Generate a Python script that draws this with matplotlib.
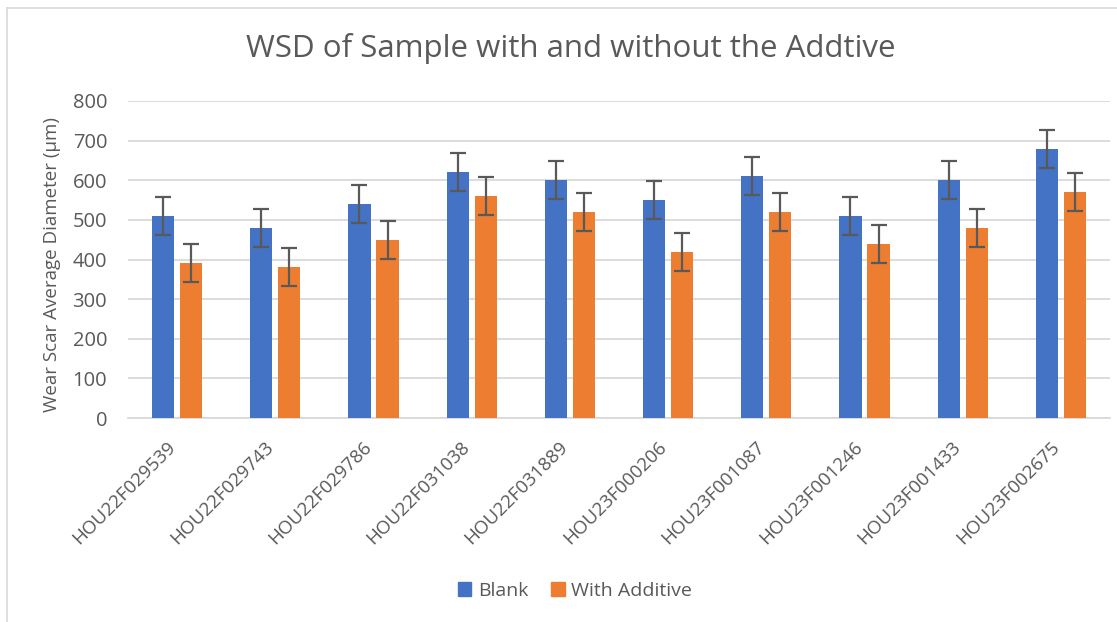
import matplotlib
matplotlib.use("Agg")
import matplotlib.pyplot as plt
from matplotlib.lines import Line2D
from matplotlib.patches import Patch
from matplotlib.transforms import ScaledTranslation
import numpy as np

categories = ["HOU22F029539", "HOU22F029743", "HOU22F029786", "HOU22F031038",
              "HOU22F031889", "HOU23F000206", "HOU23F001087", "HOU23F001246",
              "HOU23F001433", "HOU23F002675"]
blank = [510, 480, 540, 620, 600, 550, 610, 510, 600, 680]
additive = [390, 380, 450, 560, 520, 420, 520, 440, 480, 570]
blank_err = [48, 48, 48, 48, 48, 48, 48, 48, 48, 48]
additive_err = [48, 48, 48, 48, 48, 48, 48, 48, 48, 48]
yticks = [0, 100, 200, 300, 400, 500, 600, 700, 800]

plt.rcParams['font.family'] = ['Open Sans', 'DejaVu Sans']
txt = '#595959'

fig = plt.figure(figsize=(11.17, 6.22), dpi=100)
ax = fig.add_axes([128/1117, 1-418/622, (1110-128)/1117, (418-101)/622])

x = np.arange(len(categories))
w = 0.225
off = 0.143
ekw = dict(ecolor='#595959', elinewidth=1.6, capsize=5.5, capthick=1.6)
ax.bar(x - off, blank, w, color='#4472C4', yerr=blank_err, error_kw=ekw, zorder=3, label='Blank')
ax.bar(x + off, additive, w, color='#ED7D31', yerr=additive_err, error_kw=ekw, zorder=3, label='With Additive')

ax.set_xlim(-0.5, len(categories) - 0.5)
ax.set_ylim(0, 800)
ax.set_yticks(yticks)
ax.yaxis.grid(True, color='#d9d9d9', linewidth=1.3, zorder=0)
ax.set_axisbelow(True)
for s in ['top', 'right', 'left']:
    ax.spines[s].set_visible(False)
ax.spines['bottom'].set_color('#d9d9d9')
ax.spines['bottom'].set_linewidth(1.3)
ax.tick_params(axis='both', length=0, colors=txt)
ax.tick_params(axis='y', pad=15, labelsize=14.5)
ax.tick_params(axis='x', pad=9, labelsize=13.5)
ax.set_xticks(x)
ax.set_xticklabels(categories, rotation=45, ha='right', rotation_mode='anchor')
shift = ScaledTranslation(-11/100, -7/100, fig.dpi_scale_trans)
for lab in ax.get_xticklabels():
    lab.set_transform(lab.get_transform() + shift)
ax.set_ylabel('Wear Scar Average Diameter (µm)', fontsize=13.5, color=txt)
ax.yaxis.set_label_coords(61/1117, 1-264/622, transform=fig.transFigure)

fig.text(571/1117, 1-48/622, 'WSD of Sample with and without the Addtive', ha='center', va='center',
         fontsize=22.5, color=txt)

handles = [Patch(color='#4472C4'), Patch(color='#ED7D31')]
fig.legend(handles, ['Blank', 'With Additive'], loc='center', bbox_to_anchor=(575/1117, 1-591/622),
           ncol=2, frameon=False, fontsize=14, labelcolor=txt, handlelength=0.7, handleheight=0.7,
           handletextpad=0.35, columnspacing=1.15)

fig.add_artist(Line2D([7/1117, 7/1117], [0, 1-8/622], color='#d9d9d9', lw=1.2, transform=fig.transFigure))
fig.add_artist(Line2D([7/1117, 1], [1-8/622, 1-8/622], color='#d9d9d9', lw=1.2, transform=fig.transFigure))

fig.savefig('out.png', dpi=100)
